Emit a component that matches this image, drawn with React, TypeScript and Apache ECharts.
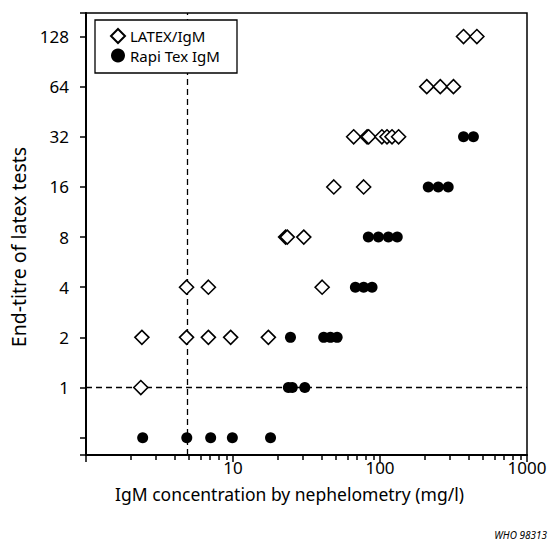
import React, { useEffect, useRef } from 'react';
import * as echarts from 'echarts';

// LATEX/IgM (open diamonds): IgM concentration (mg/l) and end-titre
const latexX = [2.36, 2.4, 4.83, 6.8, 9.64, 17.4, 4.83, 6.8, 40.4, 22.8, 23.4, 30.3, 48.5, 77.4, 66.2, 81.7, 83.7, 103, 111.6, 120.7, 133.8, 208, 257, 316, 370, 456];
const latexY = [1, 2, 2, 2, 2, 2, 4, 4, 4, 8, 8, 8, 16, 16, 32, 32, 32, 32, 32, 32, 32, 64, 64, 64, 128, 128];
// Rapi Tex IgM (filled circles); 0.5 = negative (below titre 1)
const rapiX = [2.43, 4.85, 7.05, 9.9, 18.0, 23.8, 25.3, 30.8, 24.6, 41.4, 46.0, 51.1, 68.0, 77.4, 88.3, 83.3, 97.5, 114, 131, 213, 249, 291, 370, 432];
const rapiY = [0.5, 0.5, 0.5, 0.5, 0.5, 1, 1, 1, 2, 2, 2, 2, 4, 4, 4, 8, 8, 8, 8, 16, 16, 16, 32, 32];
const yTickLabels = [1, 2, 4, 8, 16, 32, 64, 128];
const xTickLabels = [10, 100, 1000];
const cutoffX = 4.85;
const cutoffY = 1;

const FONT = '"Noto Sans", "Open Sans", sans-serif';

export default function App() {
  const ref = useRef<HTMLDivElement>(null);
  useEffect(() => {
    if (!ref.current) return;
    const chart = echarts.init(ref.current, null, { renderer: 'svg' });
    const latexData = latexX.map((x, i) => [x, latexY[i]]);
    const rapiData = rapiX.map((x, i) => [x, rapiY[i]]);
    chart.setOption({
      animation: false,
      backgroundColor: '#fff',
      textStyle: { fontFamily: FONT },
      grid: {
        left: 86, right: 24, top: 13, bottom: 93,
        show: true, borderColor: '#000', borderWidth: 1.5, backgroundColor: 'transparent',
      },
      xAxis: {
        type: 'log', logBase: 10, min: 1, max: 1000,
        name: 'IgM concentration by nephelometry (mg/l)',
        nameLocation: 'middle', nameGap: 30,
        nameTextStyle: { fontSize: 17.5, color: '#000', fontFamily: FONT, padding: [0, 34, 0, 0] },
        axisLine: { show: true, lineStyle: { color: '#000', width: 2 } },
        axisTick: { show: true, inside: false, length: 7, lineStyle: { color: '#000', width: 1.5 } },
        minorTick: { show: true, splitNumber: 9, length: 5, lineStyle: { color: '#000', width: 1.5 } },
        splitLine: { show: false },
        axisLabel: {
          fontSize: 17, color: '#000', margin: 4, fontFamily: FONT,
          formatter: (v: number) => {
            const r = Math.round(v);
            return xTickLabels.includes(r) && Math.abs(v - r) < 1e-6 ? String(r) : '';
          },
        },
      },
      yAxis: {
        type: 'log', logBase: 2, min: Math.pow(2, -1.346), max: Math.pow(2, 7.469),
        name: 'End-titre of latex tests',
        nameLocation: 'middle', nameGap: 57, nameRotate: 90,
        nameTextStyle: { fontSize: 19.5, color: '#000', fontFamily: FONT, padding: [0, 26, 0, 0] },
        axisLine: { show: true, lineStyle: { color: '#000', width: 2 } },
        axisTick: { show: true, inside: false, length: 6, lineStyle: { color: '#000', width: 1.5 } },
        splitLine: { show: false },
        axisLabel: {
          fontSize: 17, color: '#000', margin: 17, fontFamily: FONT,
          formatter: (v: number) => {
            const r = Math.round(v);
            return yTickLabels.includes(r) && Math.abs(v - r) < 1e-6 ? String(r) : '';
          },
        },
      },
      legend: {
        left: 105, top: 23, orient: 'vertical', itemGap: 4,
        itemWidth: 14, itemHeight: 14, z: 120,
        textStyle: { fontSize: 15, color: '#000', fontFamily: FONT },
        data: ['LATEX/IgM', 'Rapi Tex IgM'],
      },
      graphic: [
        {
          type: 'rect', z: 110, zlevel: 0,
          shape: { x: 95, y: 20, width: 142, height: 53 },
          style: { fill: '#fff', stroke: '#000', lineWidth: 1.3 },
        },
        {
          type: 'text', right: 4, top: 530, z: 110,
          style: { text: 'WHO 98313', font: 'italic 10px ' + FONT, fill: '#000' },
        },
      ],
      series: [
        {
          name: 'LATEX/IgM', type: 'scatter', data: latexData,
          symbol: 'diamond', symbolSize: 14, z: 3,
          itemStyle: { color: '#fff', borderColor: '#000', borderWidth: 1.6, opacity: 1 },
        },
        {
          name: 'Rapi Tex IgM', type: 'scatter', data: rapiData,
          symbol: 'circle', symbolSize: 11, z: 4,
          itemStyle: { color: '#000', opacity: 1 },
          markLine: {
            silent: true, symbol: 'none', z: 2,
            label: { show: false },
            lineStyle: { type: [6, 4], color: '#000', width: 1.3 },
            data: [{ yAxis: cutoffY }, { xAxis: cutoffX }],
          },
        },
      ],
    });
    return () => chart.dispose();
  }, []);
  return <div ref={ref} style={{ position: 'absolute', left: 0, top: 0, width: 551, height: 548 }} />;
}
